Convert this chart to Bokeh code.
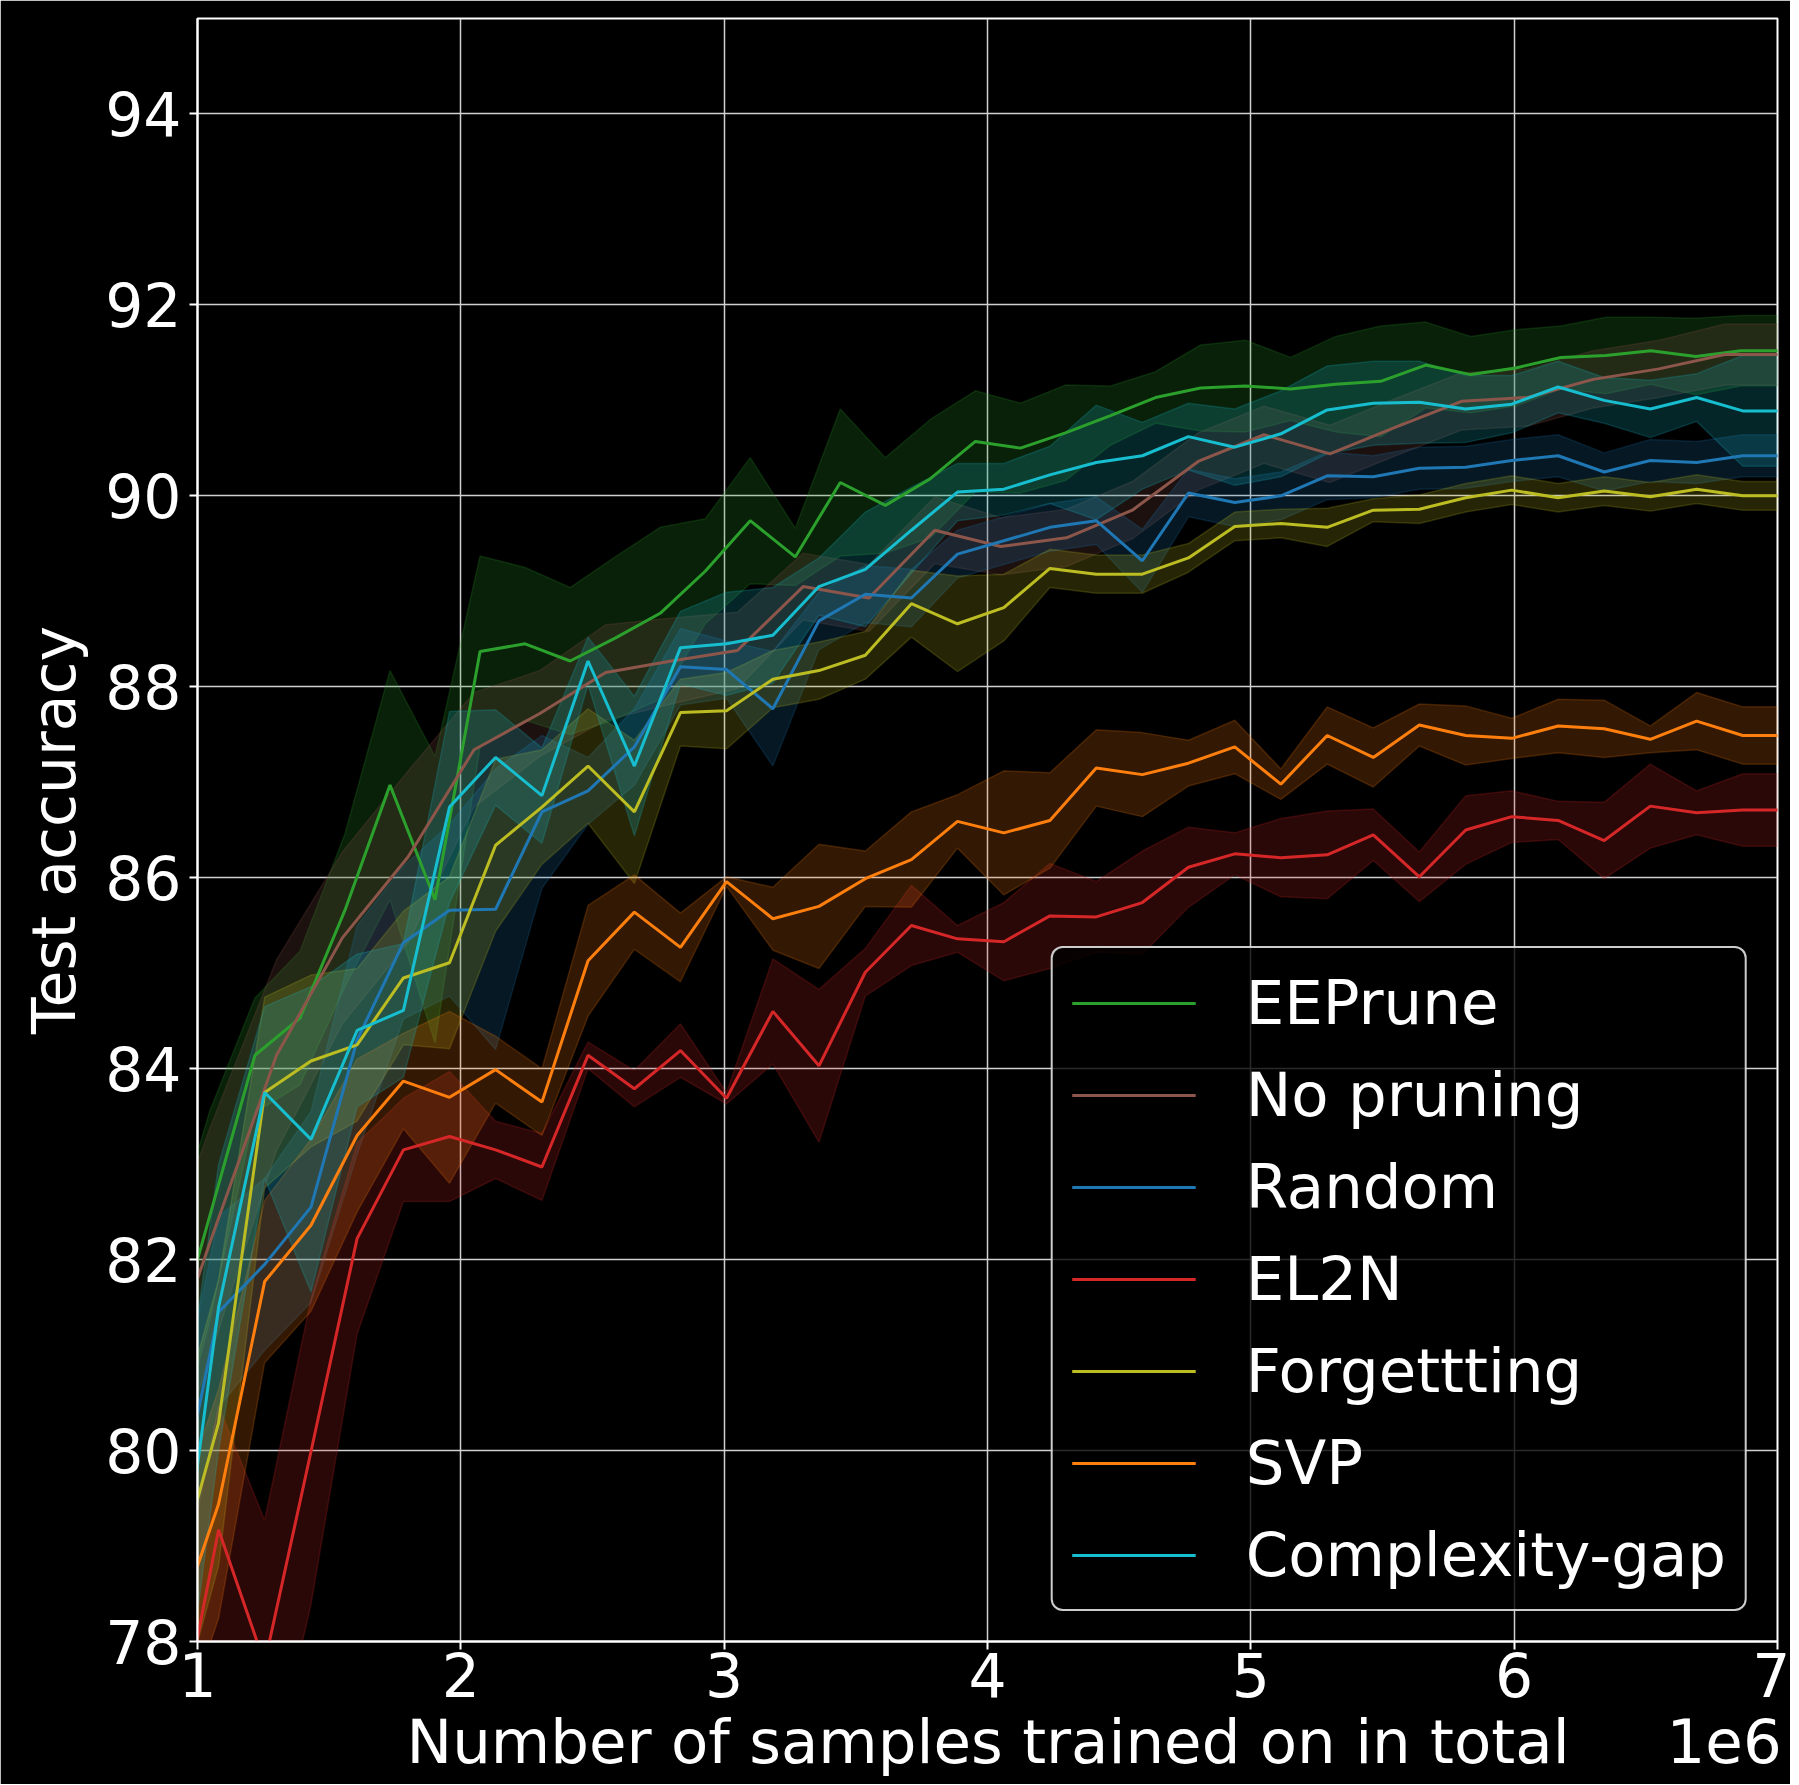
import numpy as np
from bokeh.plotting import figure
from bokeh.models import Range1d, FixedTicker, Legend, LegendItem
from bokeh.embed import file_html
from bokeh.resources import INLINE

# ---------------- data ----------------
# x positions in units of 1e6 samples
x_pruned = [0.905, 1.080, 1.255, 1.431, 1.606, 1.782, 1.957, 2.132, 2.308, 2.483,
            2.659, 2.834, 3.009, 3.185, 3.360, 3.536, 3.711, 3.886, 4.062, 4.237,
            4.413, 4.588, 4.763, 4.939, 5.114, 5.290, 5.465, 5.640, 5.816, 5.991,
            6.167, 6.342, 6.517, 6.693, 6.868, 7.043]
x_eeprune = [0.876, 1.047, 1.218, 1.389, 1.560, 1.731, 1.902, 2.073, 2.244, 2.415,
             2.586, 2.757, 2.928, 3.099, 3.270, 3.441, 3.612, 3.783, 3.954, 4.125,
             4.296, 4.467, 4.638, 4.809, 4.980, 5.151, 5.322, 5.493, 5.664, 5.835,
             6.006, 6.177, 6.348, 6.519, 6.690, 6.861, 7.032]
x_nopruning = [0.80, 1.05, 1.30, 1.55, 1.80, 2.05, 2.30, 2.55, 2.80, 3.05,
               3.30, 3.55, 3.80, 4.05, 4.30, 4.55, 4.80, 5.05, 5.30, 5.55,
               5.80, 6.05, 6.30, 6.55, 6.80, 7.05]

eeprune_mean = [80.79, 82.46, 84.14, 84.53, 85.66, 86.97, 85.77, 88.37, 88.45, 88.27,
                88.51, 88.77, 89.21, 89.74, 89.36, 90.14, 89.90, 90.18, 90.57, 90.50,
                90.66, 90.84, 91.03, 91.13, 91.15, 91.12, 91.17, 91.20, 91.37, 91.27,
                91.34, 91.45, 91.47, 91.52, 91.46, 91.52, 91.52]
eeprune_std = [1.2, 1.1, 0.6, 0.7, 0.8, 1.2, 1.5, 1.0, 0.8, 0.77,
               0.85, 0.9, 0.55, 0.66, 0.3, 0.77, 0.5, 0.62, 0.53, 0.47,
               0.5, 0.31, 0.27, 0.45, 0.48, 0.33, 0.5, 0.58, 0.45, 0.4,
               0.4, 0.33, 0.4, 0.35, 0.4, 0.37, 0.37]

nopruning_mean = [80.2, 82.2, 84.14, 85.37, 86.22, 87.34, 87.72, 88.15, 88.27, 88.38,
                  89.05, 88.93, 89.64, 89.47, 89.56, 89.85, 90.36, 90.64, 90.44, 90.72,
                  90.99, 91.03, 91.22, 91.33, 91.48, 91.48]
nopruning_std = [1.3, 1.2, 1.0, 0.9, 0.9, 0.6, 0.45, 0.5, 0.45, 0.4,
                 0.35, 0.35, 0.35, 0.3, 0.3, 0.3, 0.3, 0.3, 0.3, 0.3,
                 0.3, 0.3, 0.3, 0.3, 0.32, 0.32]

random_mean = [79.09, 81.45, 81.95, 82.55, 84.3, 85.32, 85.66, 85.67, 86.69, 86.91,
               87.37, 88.21, 88.18, 87.77, 88.69, 88.97, 88.93, 89.39, 89.53, 89.67,
               89.74, 89.32, 90.03, 89.93, 90.0, 90.21, 90.2, 90.29, 90.30, 90.37,
               90.42, 90.25, 90.37, 90.35, 90.42, 90.42]
random_std = [1.0, 1.0, 0.9, 1.0, 1.2, 0.8, 0.9, 1.47, 0.8, 0.35,
              0.4, 0.4, 0.3, 0.6, 0.3, 0.3, 0.3, 0.25, 0.25, 0.25,
              0.25, 0.33, 0.25, 0.25, 0.25, 0.25, 0.22, 0.22, 0.22, 0.22,
              0.22, 0.2, 0.22, 0.22, 0.22, 0.22]

el2n_mean = [76.70, 79.17, 77.77, 79.99, 82.22, 83.15, 83.29, 83.15, 82.97, 84.14,
             83.79, 84.19, 83.69, 84.60, 84.03, 85.01, 85.50, 85.36, 85.33, 85.60,
             85.59, 85.74, 86.11, 86.25, 86.21, 86.24, 86.45, 86.01, 86.50, 86.64,
             86.60, 86.39, 86.75, 86.68, 86.71, 86.71]
el2n_std = [1.3, 1.3, 1.5, 1.6, 1.0, 0.54, 0.68, 0.3, 0.35, 0.14,
            0.19, 0.28, 0.06, 0.55, 0.8, 0.25, 0.42, 0.14, 0.41, 0.55,
            0.37, 0.54, 0.42, 0.22, 0.41, 0.46, 0.27, 0.26, 0.36, 0.27,
            0.2, 0.4, 0.44, 0.23, 0.38, 0.38]

forgetting_mean = [78.54, 80.29, 83.75, 84.08, 84.25, 84.95, 85.11, 86.34, 86.74, 87.17,
                   86.69, 87.73, 87.75, 88.08, 88.17, 88.33, 88.87, 88.66, 88.83, 89.24,
                   89.18, 89.18, 89.35, 89.68, 89.71, 89.67, 89.85, 89.86, 89.98, 90.06,
                   89.98, 90.05, 89.99, 90.07, 90.0, 90.0]
forgetting_std = [1.5, 1.5, 1.0, 0.9, 0.8, 0.7, 0.9, 0.9, 0.6, 0.6,
                  0.75, 0.35, 0.4, 0.3, 0.3, 0.25, 0.35, 0.5, 0.35, 0.2,
                  0.2, 0.2, 0.15, 0.15, 0.15, 0.2, 0.12, 0.15, 0.15, 0.15,
                  0.15, 0.15, 0.15, 0.15, 0.15, 0.15]

svp_mean = [78.02, 79.44, 81.77, 82.36, 83.30, 83.87, 83.70, 83.99, 83.65, 85.13,
            85.64, 85.27, 85.96, 85.57, 85.70, 85.99, 86.19, 86.59, 86.47, 86.60,
            87.15, 87.08, 87.20, 87.37, 86.98, 87.49, 87.26, 87.60, 87.49, 87.46,
            87.59, 87.56, 87.45, 87.64, 87.49, 87.49]
svp_std = [1.2, 1.2, 0.85, 0.9, 0.8, 0.5, 0.9, 0.35, 0.35, 0.58,
           0.39, 0.36, 0.05, 0.33, 0.65, 0.29, 0.5, 0.28, 0.65, 0.5,
           0.4, 0.44, 0.24, 0.28, 0.16, 0.3, 0.31, 0.22, 0.31, 0.21,
           0.28, 0.3, 0.14, 0.3, 0.3, 0.3]

cgap_mean = [77.88, 81.5, 83.75, 83.26, 84.40, 84.61, 86.74, 87.26, 86.86, 88.27,
             87.17, 88.41, 88.45, 88.54, 89.05, 89.23, 89.64, 90.04, 90.07, 90.22,
             90.35, 90.42, 90.62, 90.51, 90.65, 90.90, 90.97, 90.98, 90.91, 90.96,
             91.14, 91.00, 90.91, 91.03, 90.89, 90.89]
cgap_std = [1.6, 1.5, 0.9, 1.6, 0.8, 0.7, 1.0, 0.5, 0.5, 0.25,
            0.73, 0.38, 0.54, 0.5, 0.3, 0.6, 0.45, 0.3, 0.27, 0.3,
            0.6, 0.35, 0.35, 0.4, 0.45, 0.46, 0.44, 0.43, 0.35, 0.3,
            0.27, 0.24, 0.3, 0.25, 0.58, 0.58]

labels = ["EEPrune", "No pruning", "Random", "EL2N", "Forgettting", "SVP", "Complexity-gap"]
colors = ["#2ca02c", "#8c564b", "#1f77b4", "#d62728", "#bcbd22", "#ff7f0e", "#17becf"]
xs_all = [x_eeprune, x_nopruning, x_pruned, x_pruned, x_pruned, x_pruned, x_pruned]
means = [eeprune_mean, nopruning_mean, random_mean, el2n_mean, forgetting_mean, svp_mean, cgap_mean]
stds = [eeprune_std, nopruning_std, random_std, el2n_std, forgetting_std, svp_std, cgap_std]

x_ticks = [1, 2, 3, 4, 5, 6, 7]
y_ticks = [78, 80, 82, 84, 86, 88, 90, 92, 94]
x_title = "Number of samples trained on in total"
x_offset_text = "1e6"
y_title = "Test accuracy"

FONT = "DejaVu Sans"
FS = "60px"
NB = "\u00a0"

p = figure(width=1790, height=1784, x_range=Range1d(1, 7), y_range=Range1d(78, 95),
           output_backend="svg", toolbar_location=None,
           min_border_left=197, min_border_right=13, min_border_top=18, min_border_bottom=143,
           background_fill_color="black", border_fill_color="black",
           outline_line_color="white", outline_line_width=2)

# bands first (below all lines, as in the original)
for xs, m, s, c in zip(xs_all, means, stds, colors):
    xa = np.array(xs); ma = np.array(m); sa = np.array(s)
    up = ma + sa
    lo = ma - sa
    p.patch(np.concatenate([xa, xa[::-1]]), np.concatenate([up, lo[::-1]]),
            fill_color=c, fill_alpha=0.2, line_color=c, line_alpha=0.2, line_width=1.5)

items = []
for name, xs, m, c in zip(labels, xs_all, means, colors):
    r = p.line(xs, m, line_color=c, line_width=3)
    items.append(LegendItem(label=name, renderers=[r]))

p.xaxis.ticker = FixedTicker(ticks=x_ticks)
p.yaxis.ticker = FixedTicker(ticks=y_ticks)
# x label centred on the frame, with the offset text "1e6" at the right end
p.xaxis.axis_label = NB * 11 + x_title + NB * 5 + x_offset_text
p.yaxis.axis_label = y_title
for ax in (p.xaxis[0], p.yaxis[0]):
    ax.major_label_text_font = FONT
    ax.major_label_text_font_size = FS
    ax.major_label_text_color = "white"
    ax.axis_label_text_font = FONT
    ax.axis_label_text_font_size = FS
    ax.axis_label_text_font_style = "normal"
    ax.axis_label_text_color = "white"
    ax.axis_line_color = "white"
    ax.axis_line_width = 2
    ax.major_tick_line_color = "white"
    ax.major_tick_line_width = 2
    ax.major_tick_out = 8
    ax.major_tick_in = 0
    ax.minor_tick_line_color = None
p.xaxis.axis_label_text_font_size = "61px"
p.xaxis.major_label_standoff = 2
p.xaxis.axis_label_standoff = 6
p.yaxis.major_label_standoff = 8
p.yaxis.axis_label_standoff = 13

p.grid.grid_line_color = "#d0d0d0"
p.grid.grid_line_width = 1.5

legend = Legend(items=items, location="bottom_right", margin=30, padding=19, spacing=21,
                glyph_width=124, glyph_height=50, label_standoff=50,
                label_text_font=FONT, label_text_font_size="61px", label_text_color="white",
                background_fill_color="black", background_fill_alpha=0.8,
                border_line_color="white", border_line_alpha=0.8, border_line_width=2,
                border_radius=12)
p.add_layout(legend)

open("out.html", "w").write(file_html(p, INLINE))
